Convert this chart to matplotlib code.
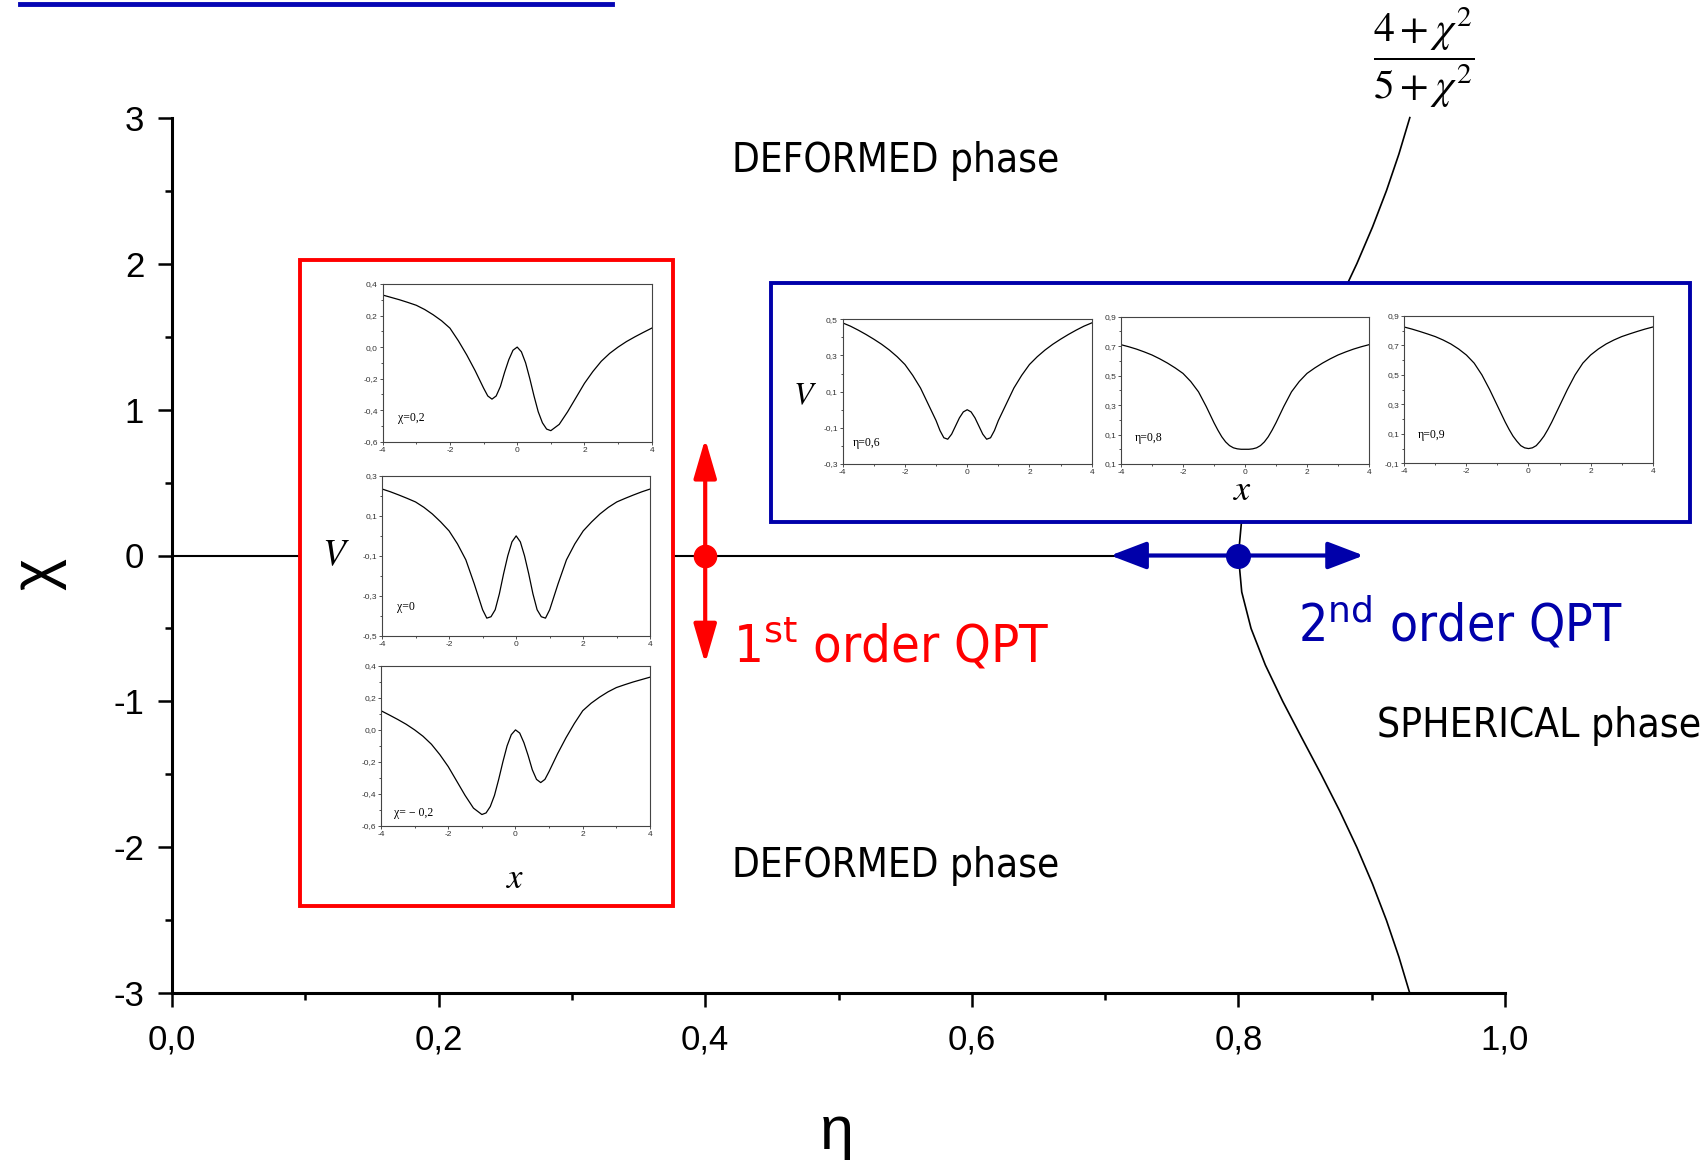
import numpy as np
import matplotlib
matplotlib.use('Agg')
import matplotlib.pyplot as plt
from matplotlib.patches import Rectangle
from matplotlib.lines import Line2D
from matplotlib.ticker import MultipleLocator

plt.rcParams['font.family'] = ['Liberation Sans Narrow', 'Liberation Sans', 'DejaVu Sans']

W, H = 1708, 1160

# --- main phase diagram ---
eta_ticks = [0.0, 0.2, 0.4, 0.6, 0.8, 1.0]
eta_ticklabels = ['0,0', '0,2', '0,4', '0,6', '0,8', '1,0']
chi_ticks = [-3, -2, -1, 0, 1, 2, 3]
chi_ticklabels = ['-3', '-2', '-1', '0', '1', '2', '3']

# boundary (4+chi^2)/(5+chi^2)
chi_boundary = [-3, -2.75, -2.5, -2.25, -2, -1.75, -1.5, -1.25, -1, -0.75, -0.5, -0.25,
                0, 0.25, 0.5, 0.75, 1, 1.25, 1.5, 1.75, 2, 2.25, 2.5, 2.75, 3]
eta_boundary = [0.9286, 0.9204, 0.9111, 0.9006, 0.8889, 0.8760, 0.8621, 0.8476, 0.8333,
                0.8202, 0.8095, 0.8025, 0.8000, 0.8025, 0.8095, 0.8202, 0.8333, 0.8476,
                0.8621, 0.8760, 0.8889, 0.9006, 0.9111, 0.9204, 0.9286]

eta_first = 0.4
eta_second = 0.8
first_arrow = (-0.74, 0.80)
second_arrow = (0.704, 0.894)

# --- potentials V(x) in the insets ---
x_pot = [-4, -3.75, -3.5, -3.25, -3, -2.75, -2.5, -2.25, -2, -1.75, -1.5, -1.25, -1,
         -0.875, -0.75, -0.625, -0.5, -0.375, -0.25, -0.125, 0, 0.125, 0.25, 0.375, 0.5,
         0.625, 0.75, 0.875, 1, 1.25, 1.5, 1.75, 2, 2.25, 2.5, 2.75, 3, 3.25, 3.5, 3.75, 4]
v_chi_p02 = [0.33, 0.315, 0.30, 0.283, 0.265, 0.238, 0.205, 0.167, 0.12, 0.04, -0.05,
             -0.15, -0.26, -0.31, -0.33, -0.31, -0.25, -0.16, -0.08, -0.02, 0.0,
             -0.03, -0.10, -0.20, -0.31, -0.41, -0.48, -0.52, -0.53, -0.49, -0.41, -0.32,
             -0.23, -0.155, -0.09, -0.04, 0.0, 0.035, 0.065, 0.093, 0.12]
v_chi_0 = [0.235, 0.221, 0.205, 0.188, 0.17, 0.143, 0.11, 0.07, 0.025, -0.04, -0.12,
           -0.24, -0.37, -0.412, -0.405, -0.37, -0.29, -0.19, -0.10, -0.03, 0.0,
           -0.03, -0.10, -0.19, -0.29, -0.37, -0.405, -0.412, -0.37, -0.24, -0.12, -0.04,
           0.025, 0.07, 0.11, 0.143, 0.17, 0.188, 0.205, 0.221, 0.235]
v_chi_m02 = [0.12, 0.093, 0.065, 0.035, 0.0, -0.04, -0.09, -0.155, -0.23, -0.32, -0.41,
             -0.49, -0.53, -0.52, -0.48, -0.41, -0.31, -0.20, -0.10, -0.03, 0.0,
             -0.02, -0.08, -0.16, -0.25, -0.31, -0.33, -0.31, -0.26, -0.15, -0.05, 0.04,
             0.12, 0.167, 0.205, 0.238, 0.265, 0.283, 0.30, 0.315, 0.33]
v_eta06 = [0.48, 0.462, 0.44, 0.416, 0.39, 0.362, 0.33, 0.293, 0.25, 0.19, 0.12, 0.03,
           -0.06, -0.115, -0.155, -0.163, -0.135, -0.09, -0.045, -0.012, 0.0,
           -0.012, -0.045, -0.09, -0.135, -0.163, -0.155, -0.115, -0.06, 0.03, 0.12, 0.19,
           0.25, 0.293, 0.33, 0.362, 0.39, 0.416, 0.44, 0.462, 0.48]
v_eta08 = [0.71, 0.696, 0.68, 0.661, 0.64, 0.614, 0.585, 0.552, 0.515, 0.46, 0.39, 0.29,
           0.18, 0.13, 0.085, 0.05, 0.025, 0.01, 0.003, 0.0, 0.0,
           0.0, 0.003, 0.01, 0.025, 0.05, 0.085, 0.13, 0.18, 0.29, 0.39, 0.46,
           0.515, 0.552, 0.585, 0.614, 0.64, 0.661, 0.68, 0.696, 0.71]
v_eta09 = [0.825, 0.811, 0.795, 0.778, 0.76, 0.737, 0.71, 0.676, 0.635, 0.58, 0.50, 0.40,
           0.29, 0.235, 0.18, 0.13, 0.085, 0.05, 0.02, 0.005, 0.0,
           0.005, 0.02, 0.05, 0.085, 0.13, 0.18, 0.235, 0.29, 0.40, 0.50, 0.58,
           0.635, 0.676, 0.71, 0.737, 0.76, 0.778, 0.795, 0.811, 0.825]

RED = '#ff0000'
BLUE = '#0000aa'


def px_rect(l, t, r, b):
    return [l / W, 1 - b / H, (r - l) / W, (b - t) / H]


fig = plt.figure(figsize=(W / 100, H / 100), dpi=100)
ax = fig.add_axes(px_rect(172, 117.6, 1505, 993.4))
ax.set_xlim(0, 1)
ax.set_ylim(-3, 3)
for s in ['top', 'right']:
    ax.spines[s].set_visible(False)
for s in ['left', 'bottom']:
    ax.spines[s].set_linewidth(2.2)
ax.set_xticks(eta_ticks)
ax.set_xticklabels(eta_ticklabels)
ax.set_yticks(chi_ticks)
ax.set_yticklabels(chi_ticklabels)
ax.xaxis.set_minor_locator(MultipleLocator(0.1))
ax.yaxis.set_minor_locator(MultipleLocator(0.5))
ax.tick_params(which='major', direction='out', length=10, width=1.8, labelsize=25)
ax.tick_params(which='minor', direction='out', length=5, width=1.8)
ax.tick_params(axis='x', pad=12)
ax.tick_params(axis='y', pad=10)

# chi = 0 line and the second-order boundary
ax.plot([0, eta_second], [0, 0], color='black', lw=1.5, zorder=2)
ax.plot(eta_boundary, chi_boundary, color='black', lw=1.2, clip_on=False, zorder=2,
        solid_joinstyle='round')

# transition points and arrows
ax.annotate('', xy=(eta_first, first_arrow[1]), xytext=(eta_first, first_arrow[0]),
            arrowprops=dict(arrowstyle='<|-|>,head_length=1.2,head_width=0.35',
                            mutation_scale=20, lw=3, color=RED, shrinkA=0, shrinkB=0))
ax.plot(eta_first, 0, 'o', ms=16, color=RED, zorder=5)
ax.annotate('', xy=(second_arrow[1], 0), xytext=(second_arrow[0], 0),
            arrowprops=dict(arrowstyle='<|-|>,head_length=1.1,head_width=0.42',
                            mutation_scale=20, lw=3, color=BLUE, shrinkA=0, shrinkB=0))
ax.plot(eta_second, 0, 'o', ms=17, color=BLUE, zorder=5)

# phase labels
big = dict(family='DejaVu Sans', fontstretch='condensed')
ax.text(0.543, 2.70, 'DEFORMED phase', ha='center', va='center', fontsize=29, **big)
ax.text(0.543, -2.13, 'DEFORMED phase', ha='center', va='center', fontsize=29, **big)
ax.text(0.904, -1.17, 'SPHERICAL phase', ha='left', va='center', fontsize=29.2, **big)
ax.text(0.4205, -0.736, '1$^{\\mathrm{st}}$ order QPT', ha='left', va='baseline',
        fontsize=37.5, color=RED, math_fontfamily='dejavusans', **big)
ax.text((1298 - 172) / 1333, -0.59, '2$^{\\mathrm{nd}}$ order QPT', ha='left',
        va='baseline', fontsize=37, color=BLUE, math_fontfamily='dejavusans', **big)

# formula of the boundary
fig.text(1424 / W, 1 - 58 / H, r'$\dfrac{4+\chi^2}{5+\chi^2}$', ha='center', va='center',
         fontsize=30, math_fontfamily='stix')

# axis labels
fig.text(38 / W, 1 - 574 / H, 'χ', rotation=90, ha='center', va='center', fontsize=44)
fig.text(837 / W, 1 - 1133 / H, 'η', ha='center', va='center', fontsize=44)

# top decoration line
fig.add_artist(Line2D([19.6 / W, 612 / W], [1 - 4 / H, 1 - 4 / H], transform=fig.transFigure,
                      color='#0505b4', lw=3.5))

# framing boxes
red_box = (300.5, 260, 673, 906)
blue_box = (771.5, 283, 1690, 521.5)
for (l, t, r, b), col in [(red_box, RED), (blue_box, BLUE)]:
    fig.add_artist(Rectangle((l / W, 1 - b / H), (r - l) / W, (b - t) / H,
                             transform=fig.transFigure, facecolor='white', edgecolor=col,
                             lw=2.8, zorder=2))

insets = [
    ((382.7, 284, 651.7, 441.7), v_chi_p02, (-0.6, 0.4), 0.2, 'χ=0,2', (0.057, 0.15), None),
    ((382, 476, 650.3, 635.7), v_chi_0, (-0.5, 0.3), 0.2, 'χ=0', (0.056, 0.18), None),
    ((381, 666, 650, 825.7), v_chi_m02, (-0.6, 0.4), 0.2, 'χ= − 0,2', (0.05, 0.08), None),
    ((842.7, 319.3, 1091.7, 464), v_eta06, (-0.3, 0.5), 0.2, 'η=0,6', (0.04, 0.145), None),
    ((1121, 316.7, 1369, 464), v_eta08, (-0.1, 0.9), 0.2, 'η=0,8', (0.056, 0.175),
     ['0,1', '0,1', '0,3', '0,5', '0,7', '0,9']),
    ((1404.3, 316, 1652.7, 463.3), v_eta09, (-0.1, 0.9), 0.2, 'η=0,9', (0.056, 0.19), None),
]

for box, v, ylim, ystep, label, lpos, ylabels in insets:
    axi = fig.add_axes(px_rect(*box), zorder=3)
    axi.plot(x_pot, v, color='black', lw=0.9, solid_joinstyle='round')
    axi.set_xlim(-4, 4)
    axi.set_ylim(*ylim)
    axi.set_xticks([-4, -2, 0, 2, 4])
    axi.set_xticklabels(['-4', '-2', '0', '2', '4'])
    yt = np.round(np.arange(ylim[0], ylim[1] + 1e-9, ystep), 2)
    axi.set_yticks(yt)
    if ylabels is None:
        ylabels = [('%.1f' % t).replace('.', ',') for t in yt]
    axi.set_yticklabels(ylabels)
    axi.xaxis.set_minor_locator(MultipleLocator(1))
    axi.yaxis.set_minor_locator(MultipleLocator(ystep / 2))
    axi.tick_params(which='both', direction='out', width=0.6, labelsize=6, pad=1,
                    colors='#333333')
    axi.tick_params(which='major', length=2.5)
    axi.tick_params(which='minor', length=1.5)
    for s in axi.spines.values():
        s.set_linewidth(0.8)
        s.set_color('#444444')
    axi.text(lpos[0], lpos[1], label, transform=axi.transAxes, ha='left', va='center',
             fontsize=8.5, family='Liberation Serif')

# V and x labels of the insets
fig.text(335.7 / W, 1 - 555 / H, r'$V$', ha='center', va='center', fontsize=27,
         math_fontfamily='stix', zorder=4)
fig.text(515 / W, 1 - 878 / H, r'$x$', ha='center', va='center', fontsize=25,
         math_fontfamily='stix', zorder=4)
fig.text(805 / W, 1 - 396 / H, r'$V$', ha='center', va='center', fontsize=23,
         math_fontfamily='stix', zorder=4)
fig.text(1243 / W, 1 - 490 / H, r'$x$', ha='center', va='center', fontsize=26,
         math_fontfamily='stix', zorder=4)

fig.savefig('out.png', dpi=100)
